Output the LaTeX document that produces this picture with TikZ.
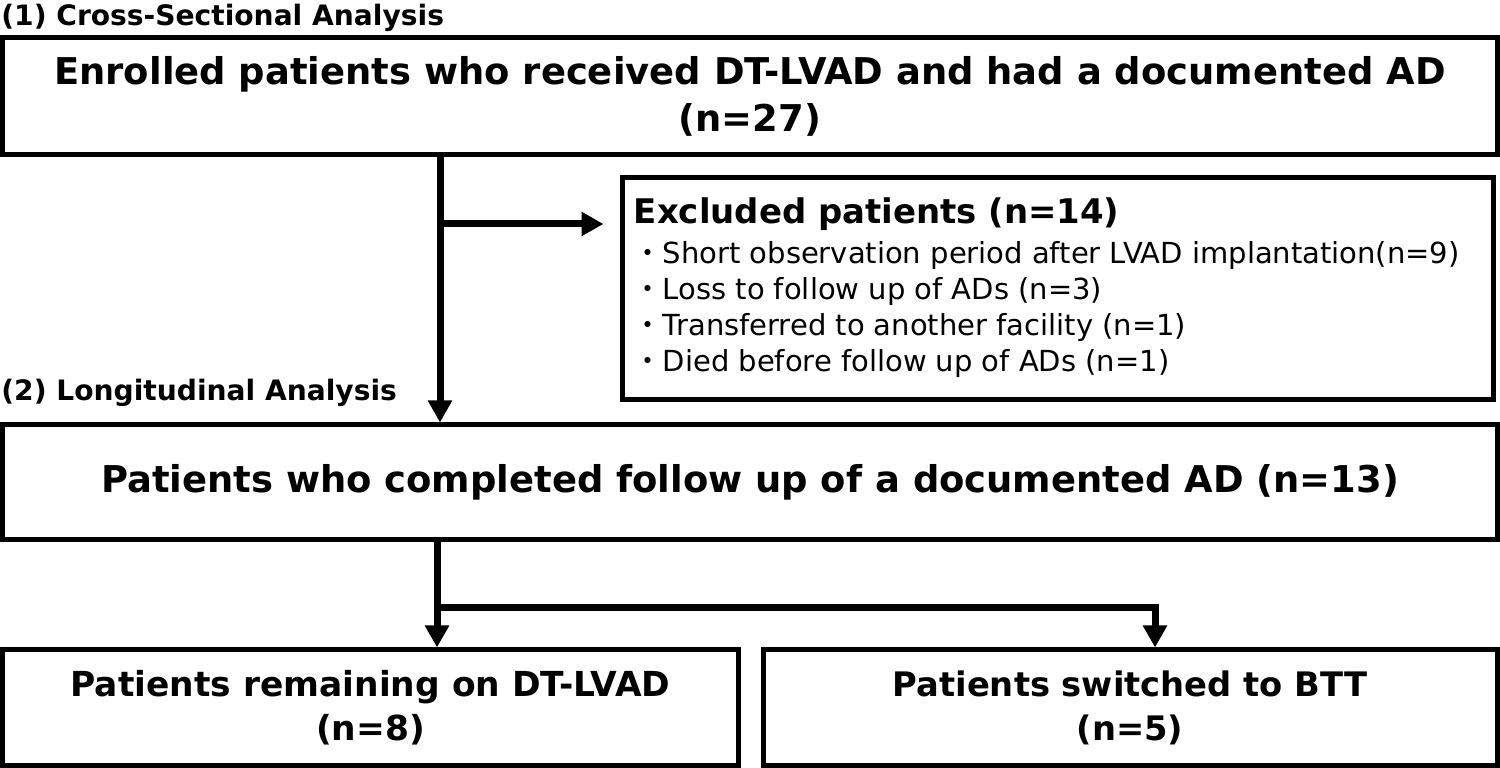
\documentclass[tikz,border=0pt]{standalone}
\usepackage{fontspec}
\setmainfont{DejaVu Sans}
\newfontfamily\cjk{Noto Sans CJK JP}
\usetikzlibrary{arrows.meta}
\newcommand{\bul}{{\cjk ・}}
\begin{document}
\begin{tikzpicture}[x=0.2mm, y=-0.2mm,
  flowbox/.style={draw=black, line width=1mm, inner sep=0pt, align=center,
                  font=\bfseries\fontsize{21}{27}\selectfont},
  flowarrow/.style={draw=black, line width=1.4mm,
                    -{Triangle[length=4.4mm, width=4.6mm]}},
  steplabel/.style={anchor=base west, inner sep=0pt,
                    font=\bfseries\fontsize{16}{18}\selectfont}]
\useasboundingbox (0,0) rectangle (1500,768);
% analysis labels
\node[steplabel] (crosslab) at (1, 26) {(1) Cross-Sectional Analysis};
\node[steplabel] (longlab) at (1, 401) {(2) Longitudinal Analysis};
% boxes
\node[flowbox, minimum width=298.8mm, minimum height=23.4mm] (enrolled) at (750, 96.5)
     {Enrolled patients who received DT-LVAD and had a documented AD\\(n=27)};
\node[draw=black, line width=1mm, minimum width=174.2mm, minimum height=44.4mm] (excluded) at (1057.5, 289) {};
\node[anchor=north west, inner sep=0pt, align=left, font=\fontsize{16.5}{20.5}\selectfont]
     (exlist) at ([xshift=2.8mm, yshift=-4.4mm]excluded.north west)
     {{\bfseries\fontsize{19.3}{20}\selectfont Excluded patients (n=14)}\\[2pt]
      \bul Short observation period after LVAD implantation(n=9)\\
      \bul Loss to follow up of ADs (n=3)\\
      \bul Transferred to another facility (n=1)\\
      \bul Died before follow up of ADs (n=1)};
\node[flowbox, minimum width=298.8mm, minimum height=23mm] (completed) at (750, 482.5)
     {Patients who completed follow up of a documented AD (n=13)};
\node[flowbox, minimum width=147mm, minimum height=23mm,
      font=\bfseries\fontsize{19.6}{25}\selectfont] (remaining) at (370.5, 707.5)
     {Patients remaining on DT-LVAD\\(n=8)};
\node[flowbox, minimum width=146.8mm, minimum height=23mm,
      font=\bfseries\fontsize{19.2}{25}\selectfont] (switched) at (1130, 707.5)
     {Patients switched to BTT\\(n=5)};
% connectors
\coordinate (split1) at (440, 224);
\coordinate (split2) at (437, 608);
\coordinate (split3) at (1155, 608);
\draw[flowarrow] (enrolled.south -| split1) -- (completed.north -| split1);
\draw[flowarrow, shorten >=3.2mm] (split1) -- (split1 -| excluded.west);
\draw[flowarrow] (completed.south -| split2) -- (remaining.north -| split2);
\draw[flowarrow] (split2) -- (split3) -- (switched.north -| split3);
\end{tikzpicture}
\end{document}
